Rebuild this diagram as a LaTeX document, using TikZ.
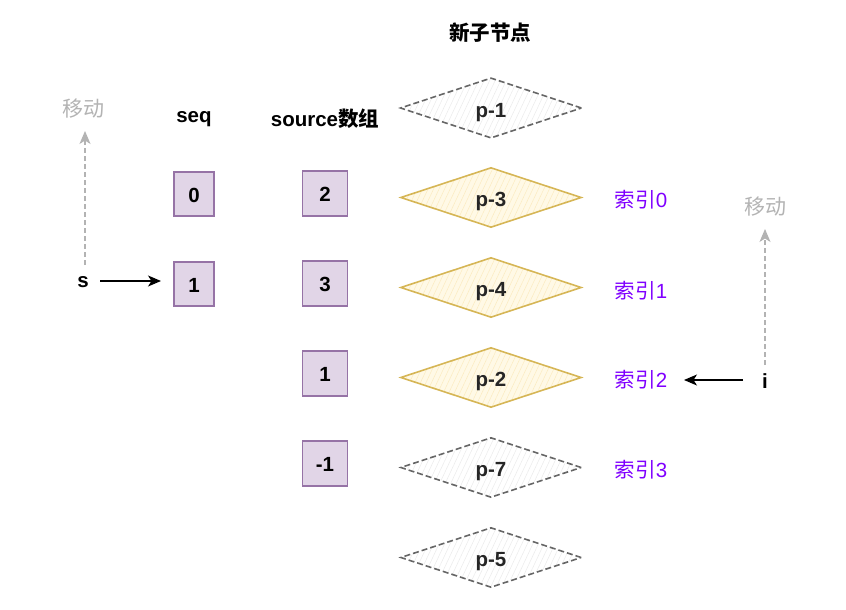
\documentclass[tikz,border=0pt]{standalone}
\usepackage{fontspec}
\setmainfont{Liberation Sans}
\newfontfamily\cjk{Noto Sans CJK SC}
\usetikzlibrary{shapes.geometric,arrows.meta,patterns.meta}
\definecolor{boxfill}{HTML}{E1D5E7}
\definecolor{boxline}{HTML}{9673A6}
\definecolor{yline}{HTML}{D6B656}
\definecolor{yfill}{HTML}{FFF9E6}
\definecolor{yhatch}{HTML}{FBEBC0}
\definecolor{gline}{HTML}{666666}
\definecolor{ghatch}{HTML}{EBEBEB}
\definecolor{purp}{HTML}{7F00FF}
\definecolor{lgray}{HTML}{B3B3B3}
\newcommand\fsz{\fontsize{20.5}{22}\selectfont}
\tikzset{
  every node/.style={font=\fsz},
  arrbox/.style={draw=boxline, fill=boxfill, line width=1.2pt, minimum width=40pt, minimum height=44pt, inner sep=0pt, text height=16pt, text depth=0pt, font=\fsz\bfseries},
  srcbox/.style={arrbox, minimum width=45pt, minimum height=45pt},
  dia/.style={diamond, aspect=3, minimum width=181pt, minimum height=60pt, inner sep=0pt, text height=18pt, text depth=0pt, font=\fsz\bfseries, text=black!85},
  ydia/.style={dia, draw=yline, line width=1.6pt, preaction={fill=yfill}, pattern={Lines[angle=65,distance=5pt,line width=0.5pt]}, pattern color=yhatch},
  gdia/.style={dia, draw=gline, line width=1.6pt, dash pattern=on 6pt off 3pt, preaction={fill=white}, pattern={Lines[angle=65,distance=5pt,line width=0.5pt]}, pattern color=ghatch},
  head/.style={font=\fsz\bfseries},
  idx/.style={text=purp, font=\fsz},
  mv/.style={text=lgray, font=\fontsize{21}{23}\selectfont},
  blk/.style={draw=black, line width=1.1pt, -{Stealth[length=13pt,width=11pt,inset=3.5pt]}},
  gdash/.style={draw=lgray, line width=1.2pt, dash pattern=on 5pt off 3pt, -{Stealth[length=13pt,width=11pt,inset=3.5pt]}},
}
\begin{document}
\begin{tikzpicture}[x=1pt,y=-1pt]
\useasboundingbox (0,0) rectangle (846,610);
% headings
\node[head] (hnew) at (490,33) {\cjk 新子节点};
\node[head] (hseq) at (194,119) {seq};
\node[head] (hsrc) at (325,119) {source{\cjk 数组}};
% seq boxes
\node[arrbox] (q0) at (194,194) {0};
\node[arrbox] (q1) at (194,284) {1};
% source boxes
\node[srcbox] (s0) at (325,193.5) {2};
\node[srcbox] (s1) at (325,283.5) {3};
\node[srcbox] (s2) at (325,373.5) {1};
\node[srcbox] (s3) at (325,463.5) {-1};
% diamonds
\node[gdia] (p1) at (491,108) {p-1};
\node[ydia] (p3) at (491,197.5) {p-3};
\node[ydia] (p4) at (491,287.5) {p-4};
\node[ydia] (p2) at (491,377.5) {p-2};
\node[gdia] (p7) at (491,467.5) {p-7};
\node[gdia] (p5) at (491,557.5) {p-5};
% indices
\node[idx] (i0) at (641,200) {{\cjk 索引}0};
\node[idx] (i1) at (641,291) {{\cjk 索引}1};
\node[idx] (i2) at (641,380) {{\cjk 索引}2};
\node[idx] (i3) at (641,470) {{\cjk 索引}3};
% left pointer
\node[head] (s) at (83,282) {s};
\node[mv] (mvl) at (83,109) {\cjk 移动};
\coordinate (sdtop) at (85,131);
\coordinate (sdbot) at (85,265);
\draw[gdash] (sdbot) -- (sdtop);
\coordinate (sarr) at (100,281);
\coordinate (sarrend) at (161,281);
\draw[blk] (sarr) -- (sarrend);
% right pointer
\node[head] (i) at (765,381) {i};
\node[mv] (mvr) at (765,207) {\cjk 移动};
\coordinate (idtop) at (765,229);
\coordinate (idbot) at (765,365);
\draw[gdash] (idbot) -- (idtop);
\coordinate (iarr) at (743,380);
\coordinate (iarrend) at (684,380);
\draw[blk] (iarr) -- (iarrend);
\end{tikzpicture}
\end{document}
